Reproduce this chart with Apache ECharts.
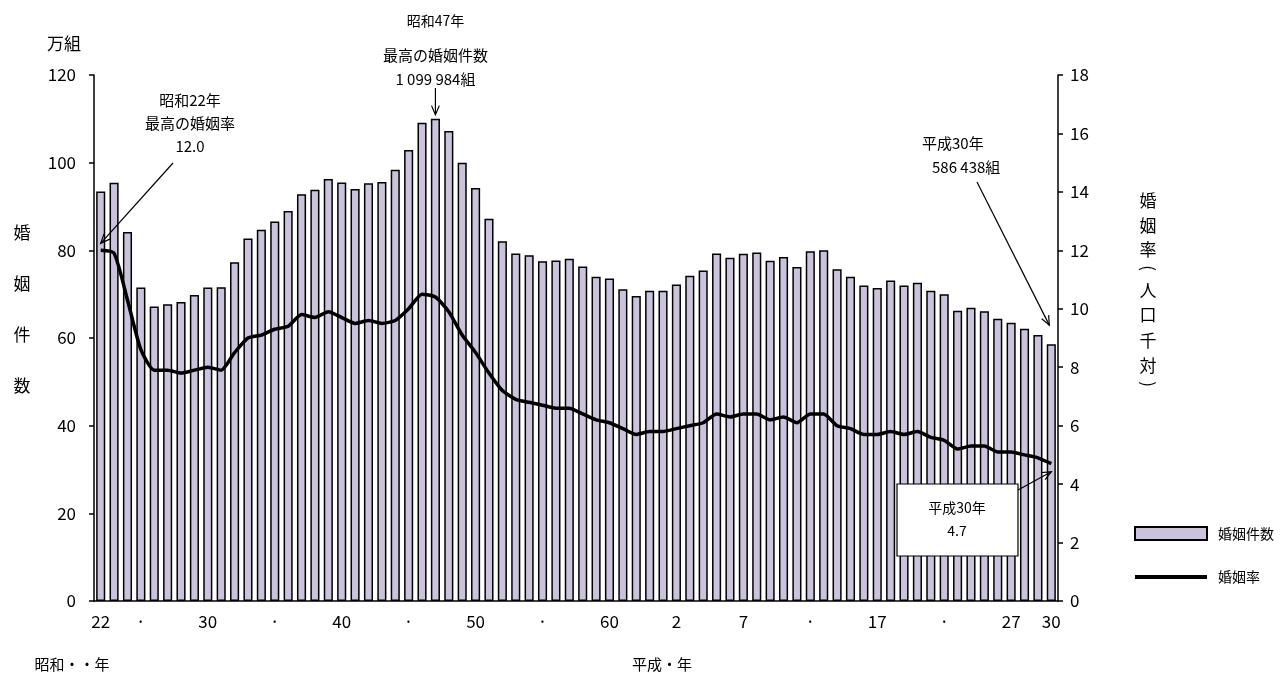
<!DOCTYPE html>
<html>
<head>
<meta charset="utf-8">
<script src="https://cdn.jsdelivr.net/npm/echarts@6/dist/echarts.min.js"></script>
<style>
  html, body { margin: 0; padding: 0; background: #fff; }
  #main { width: 1281px; height: 673px; }
</style>
</head>
<body>
<div id="main"></div>
<script>
// 昭和22年(1947) ～ 平成30年(2018)
var years = [1947, 1948, 1949, 1950, 1951, 1952, 1953, 1954, 1955, 1956,
  1957, 1958, 1959, 1960, 1961, 1962, 1963, 1964, 1965, 1966,
  1967, 1968, 1969, 1970, 1971, 1972, 1973, 1974, 1975, 1976,
  1977, 1978, 1979, 1980, 1981, 1982, 1983, 1984, 1985, 1986,
  1987, 1988, 1989, 1990, 1991, 1992, 1993, 1994, 1995, 1996,
  1997, 1998, 1999, 2000, 2001, 2002, 2003, 2004, 2005, 2006,
  2007, 2008, 2009, 2010, 2011, 2012, 2013, 2014, 2015, 2016,
  2017, 2018];

// 婚姻件数（万組）
var marriages = [93.4, 95.4, 84.2, 71.5, 67.2, 67.7, 68.2, 69.8, 71.5, 71.6,
  77.3, 82.7, 84.7, 86.6, 89.0, 92.8, 93.8, 96.3, 95.5, 94.0,
  95.3, 95.6, 98.4, 102.9, 109.1, 110.0, 107.2, 100.0, 94.2, 87.2,
  82.1, 79.3, 78.9, 77.5, 77.7, 78.1, 76.3, 74.0, 73.6, 71.1,
  69.6, 70.8, 70.8, 72.2, 74.2, 75.4, 79.3, 78.3, 79.2, 79.5,
  77.6, 78.5, 76.2, 79.8, 80.0, 75.7, 74.0, 72.0, 71.4, 73.1,
  72.0, 72.6, 70.8, 70.0, 66.2, 66.9, 66.1, 64.4, 63.5, 62.1,
  60.7, 58.6];

// 婚姻率（人口千対）
var rates = [12.0, 11.9, 10.3, 8.6, 7.9, 7.9, 7.8, 7.9, 8.0, 7.9,
  8.5, 9.0, 9.1, 9.3, 9.4, 9.8, 9.7, 9.9, 9.7, 9.5,
  9.6, 9.5, 9.6, 10.0, 10.5, 10.4, 9.9, 9.1, 8.5, 7.8,
  7.2, 6.9, 6.8, 6.7, 6.6, 6.6, 6.4, 6.2, 6.1, 5.9,
  5.7, 5.8, 5.8, 5.9, 6.0, 6.1, 6.4, 6.3, 6.4, 6.4,
  6.2, 6.3, 6.1, 6.4, 6.4, 6.0, 5.9, 5.7, 5.7, 5.8,
  5.7, 5.8, 5.6, 5.5, 5.2, 5.3, 5.3, 5.1, 5.1, 5.0,
  4.9, 4.7];

// x軸の目盛ラベル（位置と文字）
var tickPos = [0, 3, 8, 13, 18, 23, 28, 33, 38, 43, 48, 53, 58, 63, 68, 71];
var tickText = ['22', '·', '30', '·', '40', '·', '50', '·', '60', '2', '7', '·', '17', '·', '27', '30'];

var FONT = '"Noto Sans CJK JP", "Noto Sans", sans-serif';
var BAR_COLOR = '#cbc3dc';

var myChart = echarts.init(document.getElementById('main'));

var option = {
    animation: false,
    textStyle: { fontFamily: FONT, color: '#000' },
    grid: { left: 94, right: 223, top: 75, bottom: 72 },
    legend: {
        orient: 'vertical',
        left: 1128,
        top: 521,
        itemWidth: 72,
        itemHeight: 13,
        itemGap: 29,
        textStyle: { fontFamily: FONT, fontSize: 14, color: '#000', padding: [0, 0, 0, 6] },
        data: [
            { name: '婚姻件数', icon: 'rect' },
            { name: '婚姻率', itemStyle: { opacity: 0 }, lineStyle: { width: 4, color: '#000' } }
        ]
    },
    xAxis: {
        type: 'category',
        data: years,
        boundaryGap: true,
        axisLine: { lineStyle: { color: '#000', width: 1.5 } },
        axisTick: { interval: 0, length: 5, lineStyle: { color: '#000', width: 1.5 } },
        axisLabel: {
            interval: 0,
            margin: 12,
            fontSize: 17,
            color: '#000',
            fontFamily: FONT,
            formatter: function (v, i) {
                var k = tickPos.indexOf(i);
                return k >= 0 ? tickText[k] : '';
            }
        }
    },
    yAxis: [{
        type: 'value',
        min: 0, max: 120, interval: 20,
        splitLine: { show: false },
        axisLine: { show: true, lineStyle: { color: '#000', width: 1.5 } },
        axisTick: { show: true, length: 5, lineStyle: { color: '#000', width: 1.5 } },
        axisLabel: { fontSize: 17, color: '#000', margin: 18, fontFamily: FONT }
    }, {
        type: 'value',
        min: 0, max: 18, interval: 2,
        splitLine: { show: false },
        axisLine: { show: true, lineStyle: { color: '#000', width: 1.5 } },
        axisTick: { show: true, length: 5, lineStyle: { color: '#000', width: 1.5 } },
        axisLabel: { fontSize: 17, color: '#000', margin: 12, fontFamily: FONT }
    }],
    series: [{
        name: '婚姻件数',
        type: 'bar',
        data: marriages,
        barCategoryGap: '32%',
        itemStyle: { color: BAR_COLOR, borderColor: '#000', borderWidth: 1.5 }
    }, {
        name: '婚姻率',
        type: 'line',
        yAxisIndex: 1,
        data: rates,
        symbol: 'none',
        smooth: 0.2,
        lineStyle: { color: '#000', width: 3.5 },
        itemStyle: { color: '#000' }
    }]
};

myChart.setOption(option);

// 注記（矢印とテキスト）
function arrow(x1, y1, x2, y2) {
    var a = Math.atan2(y2 - y1, x2 - x1), L = 10, w = 0.4;
    return [{
        type: 'line', z: 100,
        shape: { x1: x1, y1: y1, x2: x2, y2: y2 },
        style: { stroke: '#000', lineWidth: 1.2 }
    }, {
        type: 'polyline', z: 100,
        shape: { points: [
            [x2 - L * Math.cos(a - w), y2 - L * Math.sin(a - w)],
            [x2, y2],
            [x2 - L * Math.cos(a + w), y2 - L * Math.sin(a + w)]
        ] },
        style: { stroke: '#000', lineWidth: 1.2, fill: null }
    }];
}

function txt(x, y, s, size, align) {
    return {
        type: 'text', z: 100, x: x, y: y,
        style: {
            text: s, fontFamily: FONT, fontSize: size || 15, fill: '#000',
            align: align || 'center', verticalAlign: 'middle', lineHeight: 23
        }
    };
}

var pRate0 = myChart.convertToPixel({ xAxisIndex: 0, yAxisIndex: 1 }, [0, rates[0]]);
var pMax = myChart.convertToPixel({ xAxisIndex: 0, yAxisIndex: 0 }, [25, marriages[25]]);
var pLastBar = myChart.convertToPixel({ xAxisIndex: 0, yAxisIndex: 0 }, [71, marriages[71]]);
var pLastRate = myChart.convertToPixel({ xAxisIndex: 0, yAxisIndex: 1 }, [71, rates[71]]);

var g = [];
g.push(txt(64, 44, '万組', 17));
g.push({
    type: 'text', z: 100, x: 22, y: 207,
    style: { text: '婚\n姻\n件\n数', fontFamily: FONT, fontSize: 17, fill: '#000',
        align: 'center', verticalAlign: 'top', lineHeight: 51 }
});

// 右軸タイトル（縦書き）、括弧は90度回転
var vChars = ['婚', '姻', '率', '(', '人', '口', '千', '対', ')'];
var vY = [201, 226, 250, 268, 291, 315, 341, 366, 384];
for (var i = 0; i < vChars.length; i++) {
    var t = txt(1148, vY[i], vChars[i], 17);
    if (vChars[i] === '(' || vChars[i] === ')') {
        t.rotation = -Math.PI / 2;
    }
    g.push(t);
}

g.push(txt(72, 664, '昭和・・年', 15));
g.push(txt(662, 664, '平成・年', 15));

g.push(txt(190, 123, '昭和22年\n最高の婚姻率\n12.0', 15));
g = g.concat(arrow(173, 163, pRate0[0], pRate0[1] - 7));

g.push(txt(pMax[0], 21, '昭和47年', 14));
g.push(txt(pMax[0], 55, '最高の婚姻件数', 15));
g.push(txt(pMax[0], 79, '1 099 984組', 15));
g = g.concat(arrow(pMax[0], 88, pMax[0], pMax[1] - 4));

g.push(txt(922, 143, '平成30年', 15, 'left'));
g.push(txt(932, 167, '586 438組', 15, 'left'));
g = g.concat(arrow(977, 182, pLastBar[0] - 2, pLastBar[1] - 19));

g.push({
    type: 'rect', z: 99,
    shape: { x: 897, y: 484, width: 121, height: 72 },
    style: { fill: '#fff', stroke: '#000', lineWidth: 1.2 }
});
g.push(txt(957, 519, '平成30年\n4.7', 14));
g = g.concat(arrow(1018, 490, pLastRate[0], pLastRate[1] + 8));

myChart.setOption({ graphic: g });
</script>
</body>
</html>
